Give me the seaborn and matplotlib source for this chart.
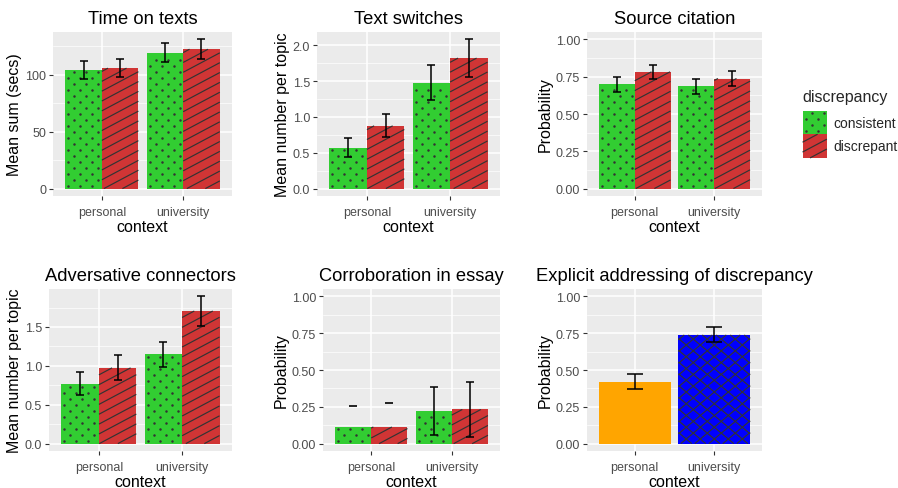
import numpy as np
import pandas as pd
import matplotlib
matplotlib.use('Agg')
import matplotlib.pyplot as plt
from matplotlib.patches import Patch, Rectangle
from matplotlib.collections import LineCollection
from matplotlib.lines import Line2D
from matplotlib.transforms import IdentityTransform, Bbox
from matplotlib.ticker import MultipleLocator, FormatStrFormatter
import seaborn as sns

# ---------------------------------------------------------
# 1. DATA
# ---------------------------------------------------------
contexts = ['personal', 'university']
discrepancy = ['consistent', 'discrepant']

# row order: consistent-personal, consistent-university, discrepant-personal, discrepant-university
row_context = ['personal', 'university', 'personal', 'university']
row_discrepancy = ['consistent', 'consistent', 'discrepant', 'discrepant']

time_mean = [103.8, 119.2, 105.6, 122.2]
time_lo = [96.4, 111.0, 97.6, 113.3]
time_hi = [112.1, 127.8, 113.6, 130.8]

switch_mean = [0.565, 1.478, 0.875, 1.82]
switch_lo = [0.44, 1.23, 0.715, 1.56]
switch_hi = [0.70, 1.73, 1.035, 2.08]

cite_mean = [0.699, 0.686, 0.783, 0.738]
cite_lo = [0.647, 0.633, 0.735, 0.688]
cite_hi = [0.749, 0.738, 0.830, 0.790]

adv_mean = [0.769, 1.150, 0.974, 1.705]
adv_lo = [0.624, 0.987, 0.812, 1.513]
adv_hi = [0.915, 1.312, 1.141, 1.893]

corr_mean = [0.111, 0.219, 0.113, 0.232]
corr_lo = [np.nan, 0.061, np.nan, 0.047]   # lower limits fall outside the axis
corr_hi = [0.253, 0.384, 0.273, 0.418]

expl_mean = [0.420, 0.738]
expl_lo = [0.368, 0.693]
expl_hi = [0.476, 0.790]

# ---------------------------------------------------------
# 2. STYLE
# ---------------------------------------------------------
GREEN = '#32CD32'
RED = '#D03535'
ORANGE = '#FFA500'
BLUE = '#0000FF'
HATCH_COL = '#333333'

sns.set_theme(style='darkgrid', rc={
    'axes.facecolor': '#EBEBEB',
    'grid.color': 'white',
    'axes.edgecolor': 'none',
})
plt.rcParams['font.family'] = ['Liberation Sans', 'DejaVu Sans']
plt.rcParams['xtick.bottom'] = True
plt.rcParams['ytick.left'] = True

fig = plt.figure(figsize=(8.98, 4.89), dpi=100)


# ggpattern-like fills, drawn in pixel space inside the bar's box
def stripes(container, bb, angles, spacing, z):
    cx, cy = (bb.x0 + bb.x1) / 2, (bb.y0 + bb.y1) / 2
    R = np.hypot(bb.width, bb.height) / 2 + spacing
    segs = []
    for ang in angles:
        t = np.deg2rad(ang)
        d = np.array([np.cos(t), np.sin(t)])
        n = np.array([-np.sin(t), np.cos(t)])
        for k in np.arange(-R, R + spacing, spacing):
            p = np.array([cx, cy]) + k * n
            tmin, tmax = -np.inf, np.inf
            ok = True
            for ax_i, (lo, hi) in enumerate([(bb.x0, bb.x1), (bb.y0, bb.y1)]):
                if abs(d[ax_i]) < 1e-9:
                    if not (lo <= p[ax_i] <= hi):
                        ok = False
                    continue
                t1 = (lo - p[ax_i]) / d[ax_i]
                t2 = (hi - p[ax_i]) / d[ax_i]
                tmin = max(tmin, min(t1, t2))
                tmax = min(tmax, max(t1, t2))
            if ok and tmax > tmin:
                segs.append([p + tmin * d, p + tmax * d])
    lc = LineCollection(segs, colors=HATCH_COL, linewidths=0.85,
                        transform=IdentityTransform(), zorder=z)
    lc.set_clip_on(False)
    container.add_artist(lc)


def dots(container, bb, z, dx=12, dy=6):
    xs, ys = [], []
    for r, y in enumerate(np.arange(bb.y0 + 3, bb.y1 - 1, dy)):
        off = (dx / 2) * (r % 2)
        for x in np.arange(bb.x0 + 3 + off, bb.x1 - 1, dx):
            xs.append(x)
            ys.append(y)
    ln = Line2D(xs, ys, linestyle='none', marker='o', markersize=1.8,
                markeredgewidth=0, color=HATCH_COL, transform=IdentityTransform(),
                zorder=z)
    ln.set_clip_on(False)
    container.add_artist(ln)


def fill_pattern(container, kind, bb, z=3):
    if kind == 'consistent':
        dots(container, bb, z)
    elif kind == 'discrepant':
        stripes(container, bb, [28], 8.7, z)
    elif kind == 'cross':
        stripes(container, bb, [40, -40], 9.0, z)


def style_axes(ax, title, ylabel, ylim, major, minor, fmt):
    ax.set_title(title, fontsize=13.2, pad=6.5, color='black')
    ax.set_xlabel('context', fontsize=11.5, labelpad=1, color='black')
    ax.set_ylabel(ylabel, fontsize=11.5, labelpad=2, color='black')
    ax.set_ylim(*ylim)
    ax.set_xlim(-0.6, 1.6)
    ax.yaxis.set_major_locator(MultipleLocator(major))
    ax.yaxis.set_minor_locator(MultipleLocator(minor))
    ax.yaxis.set_major_formatter(fmt)
    ax.grid(which='major', axis='both', color='white', linewidth=1.1)
    ax.grid(which='minor', axis='y', color='white', linewidth=0.5)
    ax.tick_params(axis='both', which='major', length=3, width=0.8,
                   color='#333333', labelsize=9, labelcolor='#4D4D4D', pad=2)
    ax.tick_params(axis='x', which='major', pad=4)
    ax.tick_params(axis='both', which='minor', length=0)
    for s in ax.spines.values():
        s.set_visible(False)


def grouped_panel(rect, mean, lo, hi, title, ylabel, ylim, major, minor, fmt):
    ax = fig.add_axes(rect)
    df = pd.DataFrame({'context': row_context, 'discrepancy': row_discrepancy,
                       'mean': mean, 'lo': lo, 'hi': hi})
    sns.barplot(data=df, x='context', y='mean', hue='discrepancy',
                order=contexts, hue_order=discrepancy,
                palette=[GREEN, RED], width=0.9, errorbar=None,
                saturation=1, legend=False, ax=ax)
    style_axes(ax, title, ylabel, ylim, major, minor, fmt)
    for hue_name, cont in zip(discrepancy, ax.containers):
        for bar in cont:
            bar.set_linewidth(0)
            fill_pattern(ax, hue_name, bar.get_window_extent())
            xc = bar.get_x() + bar.get_width() / 2
            ctx = contexts[int(round(xc))]
            row = df[(df.context == ctx) & (df.discrepancy == hue_name)].iloc[0]
            if np.isnan(row['lo']):
                ax.plot([xc], [row['hi']], marker='_', markersize=5.5,
                        markeredgewidth=1.2, color='black', zorder=4)
            else:
                ax.errorbar(xc, row['mean'],
                            yerr=[[row['mean'] - row['lo']], [row['hi'] - row['mean']]],
                            color='black', elinewidth=1.1, capsize=2.7, capthick=1.1,
                            zorder=4)
    return ax


fmt2 = FormatStrFormatter('%.2f')
fmt1 = FormatStrFormatter('%.1f')
fmt0 = FormatStrFormatter('%d')

W, H = 898, 489


def rect(l, r, t, b):
    return [l / W, 1 - b / H, (r - l) / W, (b - t) / H]


grouped_panel(rect(53, 232, 33, 197), time_mean, time_lo, time_hi,
              'Time on texts', 'Mean sum (secs)', (-6.5, 137.3), 50, 25, fmt0)
grouped_panel(rect(317, 500, 33, 197), switch_mean, switch_lo, switch_hi,
              'Text switches', 'Mean number per topic', (-0.104, 2.184), 0.5, 0.25, fmt1)
grouped_panel(rect(587, 762, 33, 197), cite_mean, cite_lo, cite_hi,
              'Source citation', 'Probability', (-0.05, 1.05), 0.25, 0.125, fmt2)
grouped_panel(rect(49, 232, 290, 452), adv_mean, adv_lo, adv_hi,
              'Adversative connectors', 'Mean number per topic', (-0.095, 1.988), 0.5, 0.25, fmt1)
grouped_panel(rect(323, 500, 290, 452), corr_mean, corr_lo, corr_hi,
              'Corroboration in essay', 'Probability', (-0.05, 1.05), 0.25, 0.125, fmt2)

# explicit addressing panel (no discrepancy split)
ax6 = fig.add_axes(rect(587, 762, 290, 452))
sns.barplot(x=contexts, y=expl_mean, hue=contexts, palette=[ORANGE, BLUE],
            width=0.9, errorbar=None, saturation=1, legend=False, ax=ax6)
style_axes(ax6, 'Explicit addressing of discrepancy', 'Probability',
           (-0.05, 1.05), 0.25, 0.125, fmt2)
for i, bar in enumerate(list(ax6.patches)):
    bar.set_linewidth(0)
    if i == 1:
        fill_pattern(ax6, 'cross', bar.get_window_extent())
    xc = bar.get_x() + bar.get_width() / 2
    k = int(round(xc))
    ax6.errorbar(xc, expl_mean[k],
                 yerr=[[expl_mean[k] - expl_lo[k]], [expl_hi[k] - expl_mean[k]]],
                 color='black', elinewidth=1.1, capsize=5.8, capthick=1.1, zorder=4)

# legend (keys are repainted afterwards so they stack without a gap)
key_colors = [GREEN, RED]
handles = [Patch(facecolor='none', linewidth=0) for _ in key_colors]
leg = fig.legend(handles, discrepancy, title='discrepancy', loc='upper left',
                 bbox_to_anchor=(797 / W, 1 - 84 / H), frameon=False,
                 fontsize=10, title_fontsize=11.5, handlelength=1.75,
                 handleheight=2.25, labelspacing=0, handletextpad=0.5,
                 borderaxespad=0)
leg._legend_box.align = 'left'
leg._legend_box.sep = 5

fig.canvas.draw()
renderer = fig.canvas.get_renderer()
b0, b1 = [p.get_window_extent(renderer) for p in leg.get_patches()]
mid = (b0.y0 + b1.y1) / 2
key_boxes = [Bbox([[b0.x0, mid], [b0.x1, b0.y1]]),
             Bbox([[b1.x0, b1.y0], [b1.x1, mid]])]
for kind, col, bb in zip(discrepancy, key_colors, key_boxes):
    fig.add_artist(Rectangle((bb.x0, bb.y0), bb.width, bb.height, facecolor=col,
                             linewidth=0, transform=IdentityTransform(), zorder=5.5))
    fill_pattern(fig, kind, bb, z=6)

fig.savefig('out.png', dpi=100, facecolor='white')
